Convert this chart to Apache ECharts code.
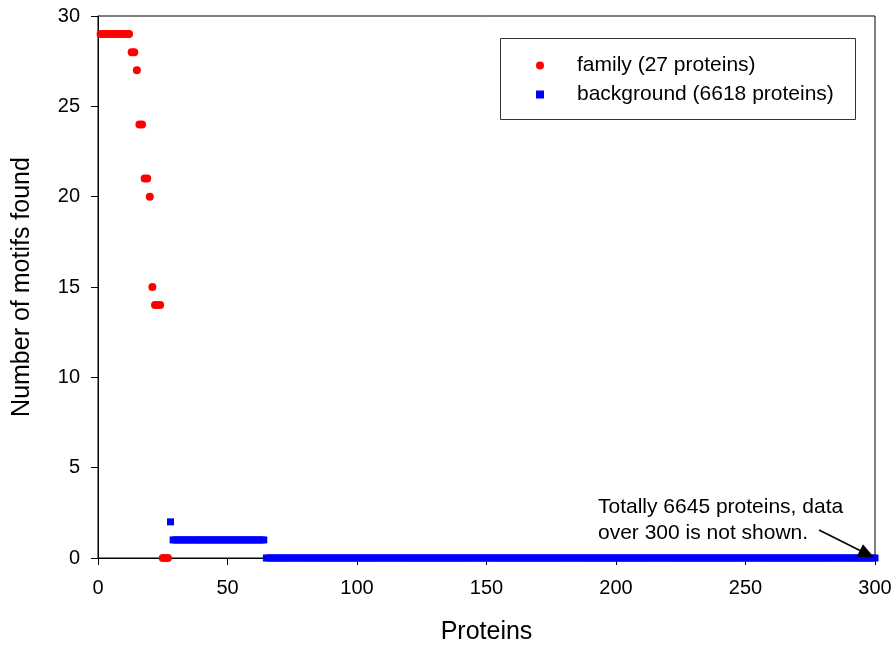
<!DOCTYPE html>
<html>
<head>
<meta charset="utf-8">
<script src="https://cdn.jsdelivr.net/npm/echarts@6/dist/echarts.min.js"></script>
<style>
  html, body { margin: 0; padding: 0; background: #fff; }
  #chart { width: 895px; height: 652px; }
</style>
</head>
<body>
<div id="chart"></div>
<script>
// motifs found per family protein, ranks 1..27
const familyMotifs = [29, 29, 29, 29, 29, 29, 29, 29, 29, 29, 29, 29,
  28, 28, 27, 24, 24, 21, 21, 20, 15, 14, 14, 14, 0, 0, 0]
// background proteins after the family, as [motifs, how many proteins]
const backgroundStart = 28
const backgroundRuns = [[2, 1], [1, 36], [0, 236]]
const xTicks = [0, 50, 100, 150, 200, 250, 300]
const yTicks = [0, 5, 10, 15, 20, 25, 30]
const legendNames = ['family (27 proteins)', 'background (6618 proteins)']
const note = 'Totally 6645 proteins, data\nover 300 is not shown.'

const font = "'Liberation Sans', Arial, sans-serif"

const familyData = familyMotifs.map((v, i) => [i + 1, v])
const backgroundData = []
let rank = backgroundStart
backgroundRuns.forEach(([v, n]) => {
  for (let k = 0; k < n; k++) backgroundData.push([rank++, v])
})

const myChart = echarts.init(document.getElementById('chart'))
const option = {
  animation: false,
  textStyle: { fontFamily: font },
  grid: {
    left: 98, right: 20, top: 16, bottom: 94,
    show: true, borderColor: '#000', borderWidth: 1
  },
  xAxis: {
    type: 'value',
    min: xTicks[0], max: xTicks[xTicks.length - 1], interval: 50,
    name: 'Proteins', nameLocation: 'middle', nameGap: 62,
    nameTextStyle: { fontSize: 25, color: '#000', fontFamily: font },
    axisLine: { lineStyle: { color: '#000' } },
    axisTick: { show: true, length: 7, lineStyle: { color: '#000' } },
    axisLabel: { fontSize: 20, color: '#000', margin: 20, fontFamily: font },
    splitLine: { show: false }
  },
  yAxis: {
    type: 'value',
    min: yTicks[0], max: yTicks[yTicks.length - 1], interval: 5,
    name: 'Number of motifs found', nameLocation: 'middle', nameGap: 63,
    nameTextStyle: { fontSize: 25, color: '#000', fontFamily: font },
    axisLine: { show: true, lineStyle: { color: '#000' } },
    axisTick: { show: true, length: 7, lineStyle: { color: '#000' } },
    axisLabel: { fontSize: 20, color: '#000', margin: 18, fontFamily: font },
    splitLine: { show: false }
  },
  legend: {
    orient: 'vertical',
    left: 536, top: 55, padding: 0,
    itemWidth: 8, itemHeight: 8, itemGap: 8,
    selectedMode: false,
    textStyle: { fontSize: 21, lineHeight: 20, color: '#000', padding: [0, 0, 0, 28], fontFamily: font },
    data: [
      { name: legendNames[0], icon: 'circle', itemStyle: { opacity: 1 } },
      { name: legendNames[1], icon: 'rect', itemStyle: { opacity: 1 } }
    ]
  },
  graphic: [
    {
      type: 'rect', left: 500, top: 38, z: 0,
      shape: { width: 355, height: 81 },
      style: { fill: '#fff', stroke: '#333', lineWidth: 1 }
    },
    {
      type: 'text', left: 598, top: 494, z: 10,
      style: { text: note, font: '21px ' + font, fill: '#000', lineHeight: 26 }
    }
  ],
  series: [
    {
      name: legendNames[0],
      type: 'scatter',
      data: familyData,
      symbol: 'circle',
      symbolSize: 8,
      clip: false,
      itemStyle: { color: '#ff0000', opacity: 1 },
      z: 3
    },
    {
      name: legendNames[1],
      type: 'scatter',
      data: backgroundData,
      symbol: 'rect',
      symbolSize: 7,
      clip: false,
      itemStyle: { color: '#0000ff', opacity: 1 },
      z: 2,
      markLine: {
        silent: true,
        symbol: ['none', 'triangle'],
        symbolSize: [14, 16],
        label: { show: false },
        lineStyle: { color: '#000', width: 1.5, type: 'solid' },
        data: [[{ coord: [278.4, 1.55] }, { coord: [296.9, 0.22] }]]
      }
    }
  ]
}
myChart.setOption(option)
</script>
</body>
</html>
